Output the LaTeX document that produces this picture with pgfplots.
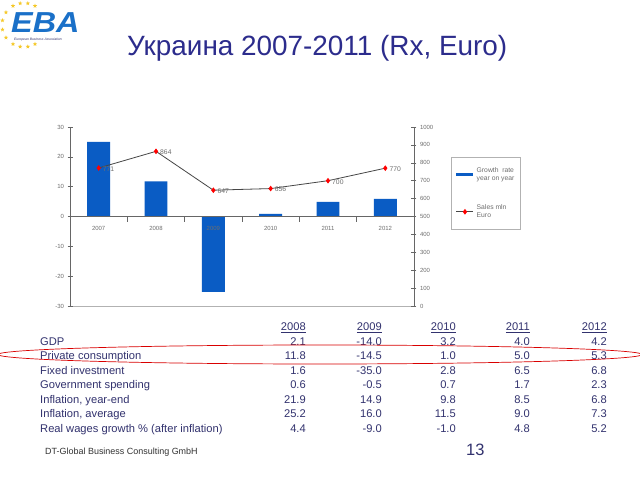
\documentclass[border=0pt]{standalone}
\usepackage{pgfplots}
\pgfplotsset{compat=1.18}
\usepackage{fontspec}
\setmainfont{Liberation Sans}
\usetikzlibrary{shapes.geometric,calc}
\definecolor{barblue}{RGB}{10,92,196}
\definecolor{linegray}{RGB}{70,70,70}
\definecolor{titleblue}{RGB}{44,44,140}
\definecolor{tabtext}{RGB}{50,50,110}
\definecolor{logoblue}{RGB}{26,112,200}
\definecolor{stary}{RGB}{245,200,40}
\definecolor{lblgray}{RGB}{110,110,110}
\begin{document}
\begin{tikzpicture}
\path[use as bounding box, fill=white] (0,0) rectangle (640bp,-480bp);
\begin{scope}[x=1bp,y=-1bp]
% logo stars
\foreach \a in {60,80,100,120,145,168,192,215,240,260,280,300}{
  \node[star, star points=5, star point ratio=2.3, fill=stary, inner sep=0pt, minimum size=4.5bp] at ($(24,25)+(\a:22)$) {};
}
\node[anchor=base west, text=logoblue, inner sep=0pt, xscale=1.12] at (11,32.5) {\fontsize{29}{30}\selectfont\bfseries\itshape EBA};
\node[anchor=base west, text=tabtext, inner sep=0pt] at (14,40.5) {\fontsize{3.4}{4}\selectfont\itshape European Business Association};
% title
\node[anchor=base west, text=titleblue, inner sep=0pt] at (127,55) {\fontsize{28}{32}\selectfont Украина 2007-2011 (Rx, Euro)};
% table
\begin{scope}[every node/.style={inner sep=0pt, text=tabtext, font=\fontsize{11.2}{13}\selectfont}]
\foreach \x/\t in {306/2008,382/2009,456/2010,530/2011,607/2012}{
  \node[anchor=base east] at (\x,330.5) {\underline{\t}};
}
\foreach \lab/\a/\b/\c/\d/\e [count=\i from 1] in {
  GDP/2.1/-14.0/3.2/4.0/4.2,
  Private consumption/11.8/-14.5/1.0/5.0/5.3,
  Fixed investment/1.6/-35.0/2.8/6.5/6.8,
  Government spending/0.6/-0.5/0.7/1.7/2.3,
  {Inflation, year-end}/21.9/14.9/9.8/8.5/6.8,
  {Inflation, average}/25.2/16.0/11.5/9.0/7.3,
  Real wages growth \% (after inflation)/4.4/-9.0/-1.0/4.8/5.2}{
  \pgfmathsetmacro{\yy}{330.5+14.5*\i}
  \node[anchor=base west] at (40,\yy) {\lab};
  \node[anchor=base east] at (306,\yy) {\a};
  \node[anchor=base east] at (382,\yy) {\b};
  \node[anchor=base east] at (456,\yy) {\c};
  \node[anchor=base east] at (530,\yy) {\d};
  \node[anchor=base east] at (607,\yy) {\e};
}
\end{scope}
% red ellipse
\draw[red!85!black, line width=0.7bp] (320,354.5) ellipse [x radius=322, y radius=9.5];
% footer
\node[anchor=base west, inner sep=0pt, text=black!80] at (45,454.5) {\fontsize{9}{10}\selectfont DT-Global Business Consulting GmbH};
\node[anchor=base west, inner sep=0pt, text=tabtext] at (466,455) {\fontsize{16.5}{18}\selectfont 13};
\end{scope}
% bar axis
\begin{axis}[
  at={(70bp,-306bp)}, anchor=south west, scale only axis,
  width=344bp, height=179bp,
  xmin=-0.5, xmax=5.5, ymin=-30, ymax=30,
  axis y line*=left, axis x line=middle,
  axis on top,
  axis line style={-, draw=gray!80!black, line width=0.5bp},
  hide obscured x ticks=false, hide obscured y ticks=false,
  xtick={0,...,5}, xticklabels={2007,2008,2009,2010,2011,2012},
  major x tick style={draw=none},
  minor xtick={0.5,1.5,2.5,3.5,4.5},
  minor tick length=5bp, major tick length=5bp,
  tick align=center,
  tick style={draw=gray!80!black, line width=0.5bp},
  ytick={-30,-20,...,30},
  /pgf/number format/assume math mode=true,
  tick label style={font=\fontsize{6}{7}\selectfont, text=lblgray},
  x tick label style={yshift=-1bp},
  ybar, bar width=0.4,
  clip=false,
]
\addplot[fill=barblue, draw=none] coordinates {(0,25) (1,11.8) (2,-25.3) (3,0.9) (4,4.9) (5,5.9)};
\draw[gray!60, line width=0.5bp] (axis cs:-0.5,-30) -- (axis cs:5.5,-30);
\end{axis}
% line axis
\begin{axis}[
  at={(70bp,-306bp)}, anchor=south west, scale only axis,
  width=344bp, height=179bp,
  xmin=-0.5, xmax=5.5, ymin=0, ymax=1000,
  axis y line*=right, axis x line=none,
  axis line style={-, draw=gray!80!black, line width=0.5bp},
  ytick={0,100,...,1000},
  tick align=center, major tick length=5bp,
  tick style={draw=gray!80!black, line width=0.5bp},
  /pgf/number format/assume math mode=true,
  /pgf/number format/1000 sep={},
  tick label style={font=\fontsize{6}{7}\selectfont, text=lblgray},
  clip=false,
  legend cell align=left,
  legend style={at={(1.1076,0.832)}, anchor=north west, draw=gray!60,
    font=\fontsize{6.8}{8}\selectfont, text=lblgray,
    cells={align=left}, inner xsep=4bp, inner ysep=8bp, row sep=19bp},
]
\addlegendimage{barblue, line width=2.5bp}
\addlegendentry{Growth\ \ rate\\year on year}
\addplot[linegray, line width=0.8bp, mark=diamond*, mark size=2.2bp,
  mark options={fill=red, draw=red},
  point meta=explicit symbolic, nodes near coords,
  every node near coord/.style={anchor=west, xshift=0.5bp, yshift=-1bp, font=\fontsize{6.8}{7}\selectfont, text=lblgray}]
  coordinates {(0,771)[771] (1,864)[864] (2,647)[647] (3,656)[656] (4,700)[700] (5,770)[770]};
\addlegendentry{Sales mln\\Euro}
\end{axis}
\end{tikzpicture}
\end{document}
